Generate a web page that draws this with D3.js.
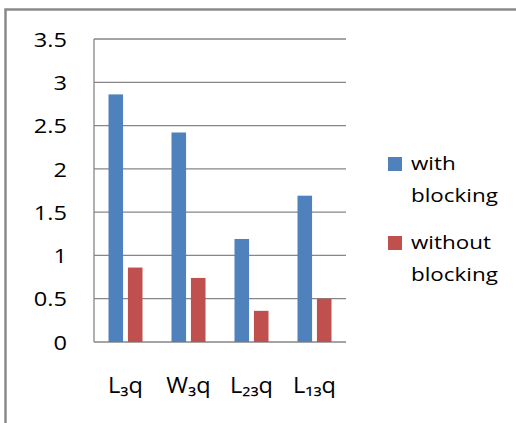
<!DOCTYPE html>
<html>
<head>
<meta charset="utf-8">
<script src="https://cdn.jsdelivr.net/npm/d3@7"></script>
<style>
  html, body { margin: 0; padding: 0; background: #fff; }
  svg { display: block; }
  text { font-family: "Open Sans", "Noto Sans", "DejaVu Sans", sans-serif; fill: #000; }
</style>
</head>
<body>
<svg id="chart" width="516" height="423"></svg>
<script>
// Chart data
const categories = ["L₃q", "W₃q", "L₂₃q", "L₁₃q"];
const seriesNames = ["with blocking", "without blocking"];
const withBlocking = [2.86, 2.42, 1.19, 1.69];
const withoutBlocking = [0.86, 0.74, 0.36, 0.5];
const yTicks = [0, 0.5, 1, 1.5, 2, 2.5, 3, 3.5];
const yTickLabels = ["0", "0.5", "1", "1.5", "2", "2.5", "3", "3.5"];
const seriesColors = ["#4F81BD", "#C0504D"];

const svg = d3.select("#chart");
const plot = { left: 94, right: 346, top: 39, bottom: 342 };
const stretch = 1.18;   // wide text rendering

// Outer frame (runs off the right and bottom edges)
svg.append("rect")
  .attr("x", 5.5).attr("y", 9.5)
  .attr("width", 700).attr("height", 700)
  .attr("fill", "none")
  .attr("stroke", "#8a8a8a")
  .attr("stroke-width", 2.5);

const x = d3.scaleBand().domain(categories).range([plot.left, plot.right]).padding(0);
const groupWidth = 34;
const xInner = d3.scaleBand().domain(seriesNames)
  .range([0, groupWidth]).paddingInner(0.25).paddingOuter(0);
const y = d3.scaleLinear().domain([0, 3.5]).range([plot.bottom, plot.top]);

// Horizontal gridlines
svg.append("g")
  .selectAll("line")
  .data(yTicks)
  .join("line")
  .attr("x1", plot.left).attr("x2", plot.right)
  .attr("y1", d => y(d)).attr("y2", d => y(d))
  .attr("stroke", "#868686")
  .attr("stroke-width", 1.3);

// Y axis line
svg.append("line")
  .attr("x1", plot.left).attr("x2", plot.left)
  .attr("y1", y(3.5)).attr("y2", y(0))
  .attr("stroke", "#868686")
  .attr("stroke-width", 1.3);

// Y tick labels
svg.append("g")
  .selectAll("text")
  .data(yTicks)
  .join("text")
  .attr("transform", d => `translate(67,${y(d)}) scale(${stretch},1)`)
  .attr("text-anchor", "end")
  .attr("dominant-baseline", "central")
  .attr("font-size", 20)
  .text((d, i) => yTickLabels[i]);

// Bars
const rows = categories.map((c, i) => ({ cat: c, values: [withBlocking[i], withoutBlocking[i]] }));
const groups = svg.append("g")
  .selectAll("g")
  .data(rows)
  .join("g")
  .attr("transform", d => `translate(${x(d.cat) + (x.bandwidth() - groupWidth) / 2},0)`);

groups.selectAll("rect")
  .data(d => d.values.map((v, j) => ({ key: seriesNames[j], value: v, color: seriesColors[j] })))
  .join("rect")
  .attr("x", d => xInner(d.key))
  .attr("width", xInner.bandwidth())
  .attr("y", d => y(d.value))
  .attr("height", d => y(0) - y(d.value))
  .attr("fill", d => d.color);

// X category labels
svg.append("g")
  .selectAll("text")
  .data(categories)
  .join("text")
  .attr("transform", d => `translate(${x(d) + x.bandwidth() / 2},393) scale(${stretch * 0.95},1)`)
  .attr("text-anchor", "middle")
  .attr("font-size", 21)
  .text(d => d);

// Legend
const legendLines = [["with", "blocking"], ["without", "blocking"]];
const legend = svg.append("g")
  .selectAll("g")
  .data(seriesNames)
  .join("g")
  .attr("transform", (d, i) => `translate(388,${157 + i * 79})`);

legend.append("rect")
  .attr("width", 14).attr("height", 14)
  .attr("fill", (d, i) => seriesColors[i]);

legend.each(function (d, i) {
  const g = d3.select(this);
  legendLines[i].forEach((line, k) => {
    g.append("text")
      .attr("transform", `translate(23,${12.5 + k * 32.4}) scale(${stretch},1)`)
      .attr("font-size", 19)
      .text(line);
  });
});
</script>
</body>
</html>
